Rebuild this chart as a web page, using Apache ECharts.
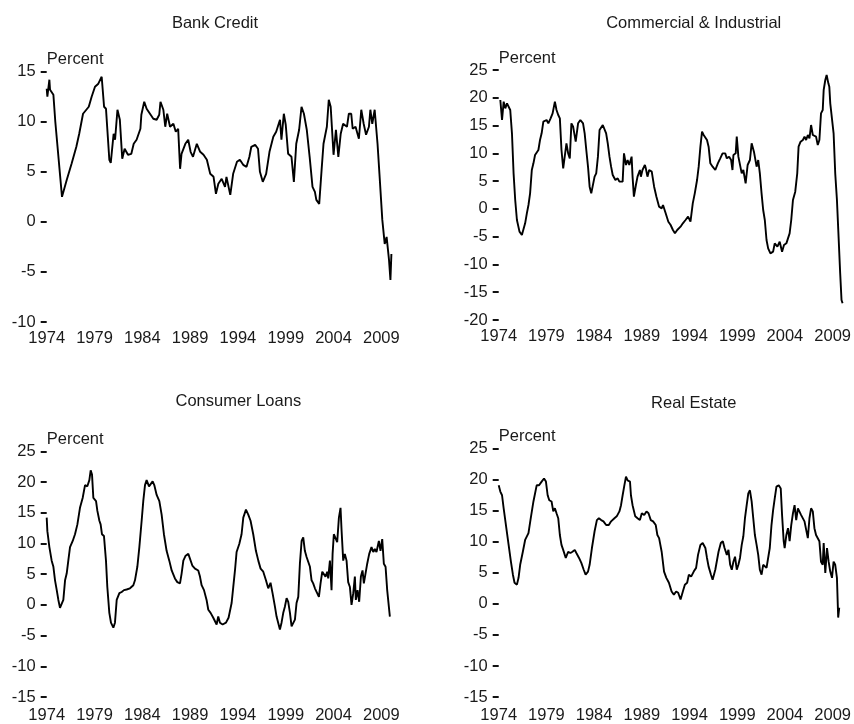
<!DOCTYPE html>
<html>
<head>
<meta charset="utf-8">
<script src="https://cdn.jsdelivr.net/npm/echarts@6/dist/echarts.min.js"></script>
<style>
html,body{margin:0;padding:0;background:#fff;}
#chart{width:854px;height:724px;}
</style>
</head>
<body>
<div id="chart"></div>
<script>
// ---- Data (decimal years, percent) ----
const baseYear = 1974;
const xTickYears = [1974, 1979, 1984, 1989, 1994, 1999, 2004, 2009];
const panelTitles = ["Bank Credit", "Commercial & Industrial", "Consumer Loans", "Real Estate"];
const yAxisName = "Percent";

const bankCreditDates = [1974.0,1974.07,1974.28,1974.35,1974.7,1974.9,1975.6,1976.1,1976.6,1977.1,1977.4,1977.8,1978.4,1978.7,1979.05,1979.4,1979.75,1980.0,1980.2,1980.55,1980.7,1981.0,1981.15,1981.4,1981.65,1981.9,1982.15,1982.5,1982.85,1983.1,1983.4,1983.8,1983.9,1984.2,1984.45,1984.8,1985.15,1985.5,1985.77,1985.9,1986.2,1986.4,1986.6,1986.9,1987.25,1987.5,1987.75,1987.95,1988.1,1988.5,1988.8,1989.05,1989.3,1989.7,1990.05,1990.4,1990.75,1991.1,1991.45,1991.7,1991.95,1992.3,1992.65,1992.8,1993.2,1993.5,1993.9,1994.2,1994.55,1994.9,1995.2,1995.4,1995.8,1996.1,1996.3,1996.6,1996.95,1997.3,1997.7,1998.0,1998.4,1998.55,1998.8,1999.0,1999.25,1999.6,1999.85,2000.1,2000.4,2000.65,2000.9,2001.2,2001.5,2001.8,2002.05,2002.2,2002.5,2002.75,2002.95,2003.3,2003.5,2003.7,2004.0,2004.25,2004.5,2004.75,2005.0,2005.4,2005.6,2005.85,2006.0,2006.3,2006.65,2006.9,2007.15,2007.4,2007.7,2007.85,2008.05,2008.3,2008.6,2008.8,2009.1,2009.35,2009.55,2009.8,2009.95,2010.05];
const bankCreditValues = [13.3,12.5,14.2,13.2,12.7,10.0,2.5,4.2,5.8,7.5,8.8,10.8,11.5,12.5,13.5,13.8,14.5,11.5,11.3,6.2,5.9,8.8,8.2,11.2,10.2,6.3,7.3,6.7,6.8,7.8,8.2,9.3,10.7,12.0,11.3,10.8,10.3,10.2,10.7,12.0,11.2,9.5,10.8,9.5,9.8,9.0,9.3,5.3,6.8,7.8,8.2,7.0,6.5,7.8,7.0,6.7,6.2,4.8,4.5,2.8,3.8,4.3,3.5,4.5,2.7,4.8,6.0,6.2,5.7,5.5,6.5,7.5,7.7,7.3,5.0,4.0,4.8,7.0,8.5,9.0,10.2,8.2,10.8,9.7,6.8,6.5,4.0,7.8,9.2,11.5,10.8,9.2,6.5,3.5,3.0,2.2,1.8,5.2,7.8,9.5,12.2,11.5,6.7,9.2,6.5,8.8,9.8,9.5,10.8,10.8,9.3,9.5,8.3,11.2,9.8,8.7,9.5,11.2,9.8,11.2,7.8,4.8,0.2,-2.2,-1.5,-3.8,-5.8,-3.2];

const ciDates = [1974.17,1974.35,1974.52,1974.69,1974.87,1975.04,1975.21,1975.39,1975.56,1975.73,1975.91,1976.18,1976.43,1976.6,1976.77,1976.95,1977.12,1977.29,1977.47,1977.64,1977.81,1978.16,1978.33,1978.5,1978.68,1979.02,1979.2,1979.44,1979.65,1979.89,1980.06,1980.24,1980.41,1980.58,1980.76,1980.93,1981.1,1981.28,1981.45,1981.62,1981.8,1982.07,1982.32,1982.56,1982.84,1983.01,1983.18,1983.36,1983.53,1983.7,1983.88,1984.05,1984.22,1984.4,1984.57,1984.74,1984.91,1985.09,1985.26,1985.43,1985.61,1985.78,1985.95,1986.23,1986.47,1986.65,1986.82,1986.99,1987.13,1987.34,1987.51,1987.69,1987.93,1988.03,1988.17,1988.38,1988.55,1988.8,1988.9,1989.07,1989.32,1989.42,1989.59,1989.77,1990.04,1990.29,1990.53,1990.81,1991.08,1991.22,1991.5,1991.78,1992.02,1992.26,1992.47,1992.71,1993.06,1993.3,1993.58,1993.85,1994.1,1994.34,1994.55,1994.79,1994.96,1995.14,1995.31,1995.48,1995.66,1995.83,1996.0,1996.18,1996.42,1996.7,1996.97,1997.22,1997.46,1997.74,1997.91,1998.15,1998.36,1998.5,1998.6,1998.84,1998.95,1999.12,1999.29,1999.47,1999.64,1999.88,2000.09,2000.33,2000.51,2000.75,2000.92,2001.03,2001.2,2001.37,2001.55,2001.72,2001.89,2002.07,2002.24,2002.48,2002.76,2002.93,2003.21,2003.45,2003.7,2003.9,2004.15,2004.32,2004.49,2004.66,2004.84,2005.08,2005.29,2005.43,2005.64,2005.88,2006.05,2006.22,2006.4,2006.57,2006.74,2006.92,2007.09,2007.26,2007.44,2007.61,2007.78,2007.96,2008.06,2008.23,2008.37,2008.55,2008.65,2008.75,2008.89,2009.1,2009.27,2009.45,2009.62,2009.79,2009.93,2010.04];
const ciValues = [19.6,16.0,19.3,18.1,19.0,19.3,17.8,13.6,6.4,1.6,-2.0,-4.1,-4.7,-5.0,-2.6,-0.8,0.7,2.8,7.0,8.2,9.7,10.6,12.4,13.6,15.7,16.0,15.4,16.3,17.2,19.3,17.8,16.9,16.3,10.6,7.3,7.6,11.8,10.0,9.1,15.4,14.8,12.1,15.4,16.0,15.4,13.6,10.6,7.6,4.0,2.8,3.1,5.8,6.4,9.4,14.2,14.5,15.1,14.8,13.6,11.8,9.4,7.6,6.1,5.2,5.5,4.9,4.6,4.9,10.0,7.9,8.8,7.9,9.4,5.8,2.2,4.3,5.8,7.0,5.8,7.0,7.9,7.3,5.8,7.0,6.7,4.0,2.2,0.4,0.1,0.7,-0.8,-2.3,-2.9,-3.8,-4.4,-3.8,-3.2,-2.6,-2.0,-1.4,-2.3,1.0,2.8,5.2,7.6,11.2,13.9,13.3,13.3,12.4,11.2,8.2,7.6,7.0,8.2,9.1,10.0,10.0,9.1,9.4,8.8,7.0,9.7,10.0,13.0,9.4,9.7,6.4,7.0,4.6,7.9,8.8,11.8,10.3,10.0,7.6,8.8,6.4,2.8,-0.2,-2.0,-5.6,-7.1,-8.0,-7.7,-6.2,-6.8,-5.9,-7.7,-6.5,-6.2,-5.3,-4.4,-2.0,1.6,3.1,6.4,11.2,12.1,12.4,13.0,12.4,13.3,12.7,15.1,13.3,13.6,13.0,11.5,12.4,17.2,17.8,21.4,23.2,24.1,22.6,22.0,19.0,19.3,13.6,6.4,1.6,-5.0,-11.6,-16.4,-17.0];

const consumerDates = [1974.0,1974.07,1974.28,1974.52,1974.7,1974.87,1975.05,1975.22,1975.39,1975.57,1975.74,1975.92,1976.09,1976.26,1976.44,1976.72,1976.96,1977.21,1977.48,1977.76,1978.01,1978.25,1978.46,1978.6,1978.74,1978.88,1979.16,1979.3,1979.51,1979.64,1979.78,1979.99,1980.2,1980.34,1980.55,1980.72,1980.97,1981.14,1981.32,1981.6,1981.84,1982.08,1982.36,1982.71,1983.06,1983.23,1983.48,1983.69,1983.93,1984.1,1984.28,1984.45,1984.7,1984.87,1985.08,1985.25,1985.5,1985.78,1986.02,1986.26,1986.54,1986.82,1987.07,1987.41,1987.66,1987.94,1988.11,1988.29,1988.53,1988.81,1988.98,1989.23,1989.51,1989.85,1990.03,1990.2,1990.45,1990.72,1990.9,1991.14,1991.42,1991.77,1991.94,1992.12,1992.4,1992.75,1993.02,1993.34,1993.51,1993.69,1993.86,1994.14,1994.38,1994.56,1994.84,1995.08,1995.32,1995.6,1995.88,1996.13,1996.37,1996.65,1996.93,1997.17,1997.41,1997.62,1997.87,1998.04,1998.22,1998.39,1998.56,1998.74,1998.91,1999.09,1999.26,1999.44,1999.61,1999.78,1999.96,2000.13,2000.31,2000.48,2000.66,2000.83,2001.0,2001.18,2001.35,2001.53,2001.7,2001.87,2002.05,2002.22,2002.47,2002.64,2002.82,2002.99,2003.16,2003.34,2003.44,2003.62,2003.79,2003.9,2004.03,2004.21,2004.38,2004.56,2004.73,2004.84,2005.01,2005.18,2005.36,2005.53,2005.71,2005.88,2006.06,2006.23,2006.33,2006.51,2006.68,2006.86,2007.03,2007.17,2007.34,2007.52,2007.73,2007.97,2008.15,2008.32,2008.49,2008.74,2008.91,2009.09,2009.26,2009.44,2009.61,2009.89];
const consumerValues = [14.2,12.0,9.4,7.2,6.2,4.0,2.4,0.8,-0.5,-0.5,0.8,4.0,5.1,7.2,9.4,10.4,11.5,13.1,15.8,17.4,19.5,19.3,20.3,21.9,21.2,17.4,16.9,15.3,13.7,13.1,11.5,11.2,7.2,2.9,-1.3,-2.9,-3.7,-2.9,0.8,1.9,2.1,2.4,2.5,2.7,3.2,4.0,6.2,9.4,13.7,16.9,19.5,20.3,19.3,19.0,20.1,19.5,17.9,16.9,14.7,11.5,8.8,7.2,5.6,4.3,3.7,3.5,5.1,7.2,8.0,8.3,8.0,6.4,5.9,5.6,4.6,3.2,2.4,0.8,-0.8,-1.3,-2.1,-3.2,-1.9,-2.9,-3.2,-2.9,-2.1,0.3,2.9,5.6,8.6,9.9,11.5,14.2,15.5,14.7,13.7,11.5,8.8,7.2,5.9,5.4,4.0,2.7,3.6,1.9,-0.3,-1.9,-1.6,-4.0,-2.9,-1.3,-0.3,1.1,0.5,-1.3,-3.5,-3.5,-2.4,0.3,1.3,6.7,10.4,11.0,8.8,7.8,8.0,6.2,4.0,3.5,2.7,2.9,1.3,3.5,5.4,5.1,4.6,5.4,4.3,7.2,2.4,8.3,11.5,11.5,10.2,14.2,15.8,12.1,7.2,8.3,7.2,3.7,2.9,0.0,1.9,4.6,0.8,2.4,0.5,4.6,5.6,3.5,3.5,6.7,8.3,9.4,8.6,9.1,8.6,10.4,8.8,10.7,6.7,6.2,2.4,-1.9];

const realEstateDates = [1974.0,1974.17,1974.35,1974.52,1974.8,1975.04,1975.28,1975.49,1975.66,1975.91,1976.08,1976.25,1976.53,1976.77,1977.12,1977.36,1977.64,1977.98,1978.23,1978.5,1978.75,1978.95,1979.13,1979.3,1979.54,1979.72,1979.89,1980.06,1980.24,1980.41,1980.58,1980.76,1981.03,1981.28,1981.52,1981.73,1981.97,1982.14,1982.42,1982.66,1982.91,1983.11,1983.36,1983.53,1983.77,1984.05,1984.29,1984.5,1984.74,1984.98,1985.26,1985.54,1985.78,1986.13,1986.37,1986.65,1986.82,1986.99,1987.17,1987.34,1987.51,1987.76,1987.86,1988.03,1988.31,1988.55,1988.8,1989.0,1989.25,1989.49,1989.7,1989.94,1990.18,1990.46,1990.63,1990.81,1991.08,1991.33,1991.57,1991.84,1992.12,1992.36,1992.6,1992.81,1993.06,1993.3,1993.51,1993.75,1993.93,1994.17,1994.44,1994.69,1994.89,1995.14,1995.38,1995.66,1995.83,1996.0,1996.25,1996.42,1996.7,1996.87,1997.04,1997.28,1997.49,1997.67,1997.91,1998.08,1998.26,1998.43,1998.6,1998.77,1998.95,1999.12,1999.29,1999.47,1999.64,1999.81,1999.99,2000.16,2000.33,2000.51,2000.68,2000.85,2001.03,2001.2,2001.37,2001.55,2001.72,2001.89,2002.07,2002.24,2002.41,2002.59,2002.76,2002.93,2003.11,2003.35,2003.56,2003.7,2003.87,2003.97,2004.15,2004.32,2004.49,2004.66,2004.84,2005.01,2005.18,2005.36,2005.53,2005.7,2005.88,2006.05,2006.22,2006.4,2006.57,2006.74,2006.92,2007.09,2007.26,2007.44,2007.61,2007.78,2007.96,2008.06,2008.23,2008.41,2008.58,2008.75,2008.93,2009.1,2009.27,2009.45,2009.58,2009.69];
const realEstateValues = [19.1,18.1,17.5,15.4,12.2,9.5,6.8,4.7,3.4,3.1,4.2,6.3,8.4,10.3,11.4,13.8,16.5,19.1,19.1,19.7,20.2,19.7,17.5,16.7,16.5,14.9,15.4,14.6,13.8,11.1,9.5,8.7,7.4,8.4,8.2,8.4,8.7,8.2,7.4,6.6,5.5,4.7,5.2,6.3,9.0,11.7,13.5,13.8,13.5,13.3,12.7,12.7,13.3,13.8,14.1,14.9,15.9,17.5,19.1,20.5,19.9,19.7,17.5,15.9,14.1,13.8,13.5,14.6,14.3,14.9,14.6,13.5,13.3,12.7,11.1,10.6,8.4,5.2,4.2,3.4,2.0,1.5,2.0,1.8,0.7,2.0,3.1,3.4,4.7,4.4,5.2,5.8,7.9,9.5,9.8,9.0,7.4,6.0,4.7,3.9,5.5,5.8,8.4,9.8,10.1,9.0,7.9,8.7,6.3,5.5,6.8,7.6,5.5,6.3,7.4,9.5,10.9,13.8,15.9,17.8,18.3,16.5,13.8,11.1,9.5,7.9,5.5,4.7,6.3,6.6,5.8,5.5,9.0,12.7,15.1,17.0,18.9,19.1,18.6,14.3,10.1,9.0,11.1,12.2,10.1,12.7,14.6,15.9,13.5,15.4,15.1,14.3,14.1,13.3,13.3,10.6,13.8,15.4,14.9,12.2,11.1,11.4,10.1,6.8,6.3,9.8,5.0,9.0,6.8,5.2,4.2,6.8,6.3,4.2,-2.2,-0.6];

// y-axis ranges per panel
const yMins = [-10, -20, -15, -15];
const yMaxs = [15, 25, 25, 25];

// ---- Layout (pixels) ----
const grids = [
  {left: 46.7, top: 71.7, width: 349, height: 250.3},
  {left: 498.7, top: 70, width: 351, height: 250},
  {left: 46.7, top: 451.3, width: 349, height: 249},
  {left: 498.7, top: 448.7, width: 351, height: 250}
];
const xLabelMargins = [8, 8, 10, 10];
const titlePos = [[215, 23.5], [693.7, 23.5], [238.3, 401.5], [693.7, 403.7]];
const xSpan = 36.5;

const FONT = "'Liberation Sans', Arial, sans-serif";
const FS = 16.5;
const TXT = '#1a1a1a';

const seriesDates = [bankCreditDates, ciDates, consumerDates, realEstateDates];
const seriesValues = [bankCreditValues, ciValues, consumerValues, realEstateValues];

const option = {
  animation: false,
  backgroundColor: '#ffffff',
  textStyle: {fontFamily: FONT},
  title: panelTitles.map((t, i) => ({
    text: t,
    left: titlePos[i][0],
    top: titlePos[i][1],
    textAlign: 'center',
    textVerticalAlign: 'middle',
    padding: 0,
    textStyle: {fontFamily: FONT, fontSize: FS, fontWeight: 'normal', color: TXT}
  })),
  grid: grids.map(g => Object.assign({containLabel: false}, g)),
  xAxis: grids.map((g, i) => ({
    type: 'value',
    gridIndex: i,
    min: 0,
    max: xSpan,
    interval: 5,
    axisLine: {show: false},
    axisTick: {show: false},
    splitLine: {show: false},
    axisLabel: {
      show: true,
      margin: xLabelMargins[i],
      fontSize: FS,
      fontFamily: FONT,
      color: TXT,
      showMaxLabel: false,
      formatter: v => (xTickYears.indexOf(baseYear + v) >= 0 ? String(baseYear + v) : '')
    }
  })),
  yAxis: grids.map((g, i) => ({
    type: 'value',
    gridIndex: i,
    min: yMins[i],
    max: yMaxs[i],
    interval: 5,
    name: yAxisName,
    nameLocation: 'end',
    nameGap: 12,
    nameTextStyle: {fontFamily: FONT, fontSize: FS, color: TXT, align: 'left', verticalAlign: 'middle', padding: [0, 0, 0, 0]},
    axisLine: {show: false},
    axisTick: {show: true, length: 6, inside: false, lineStyle: {color: '#111', width: 2}},
    splitLine: {show: false},
    axisLabel: {margin: 11, fontSize: FS, fontFamily: FONT, color: TXT}
  })),
  series: seriesDates.map((dates, i) => ({
    type: 'line',
    xAxisIndex: i,
    yAxisIndex: i,
    showSymbol: false,
    symbol: 'none',
    data: dates.map((d, k) => [d - baseYear, seriesValues[i][k]]),
    lineStyle: {color: '#000', width: 1.9},
    clip: false
  }))
};

const chart = echarts.init(document.getElementById('chart'), null, {renderer: 'canvas'});
chart.setOption(option);
</script>
</body>
</html>
